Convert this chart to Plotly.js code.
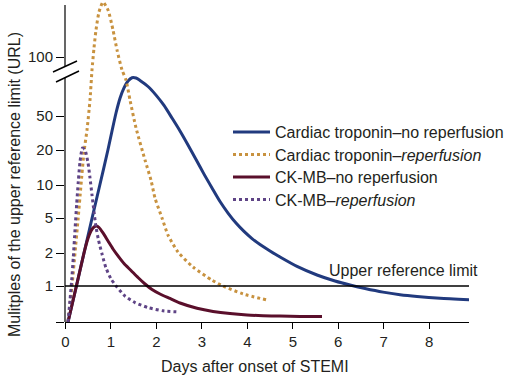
<!DOCTYPE html>
<html><head><meta charset="utf-8">
<script src="https://cdn.plot.ly/plotly-3.0.1.min.js"></script>
<style>html,body{margin:0;padding:0;background:#fff}</style>
</head><body><div id="chart" style="width:513px;height:377px"></div>
<script>
// ---- data (multiples of URL vs days after onset of STEMI) ----
const tnNoDays = [0.055,0.240,0.407,0.585,0.755,0.933,1.023,1.111,1.199,1.287,1.375,1.463,1.551,1.639,1.815,1.991,2.167,2.343,2.519,2.695,2.871,3.047,3.223,3.399,3.575,3.751,3.927,4.103,4.279,4.499,4.719,5.093,5.533,5.928,6.259,6.589,6.985,7.359,7.733,8.239,8.877];
const tnNoVals = [0,1.0,2.0,5.0,10,20,33.4,51.8,61.6,69.5,75.4,78.4,78.1,75.9,70.7,63.9,56.6,47.3,33.4,22.9,16.6,12.4,9.40,7.07,5.55,4.38,3.52,2.92,2.50,2.11,1.84,1.51,1.26,1.11,1.02,0.93,0.83,0.76,0.71,0.66,0.62];

const tnRepDays = [0.055,0.143,0.209,0.275,0.341,0.407,0.473,0.539,0.583,0.627,0.671,0.737,0.825,0.935,1.045,1.133,1.243,1.331,1.419,1.551,1.749,1.881,1.969,2.123,2.255,2.475,2.805,3.223,3.465,3.905,4.433];
const tnRepVals = [0,1.0,2.0,4.74,10,19.2,34.3,60.3,85.9,111.6,138.9,172.8,195,177.1,138.9,108.9,85.9,76.3,60.3,36.3,16.4,11.0,7.6,5.0,3.2,2.05,1.49,1.13,1.0,0.78,0.61];

const ckNoDays = [0.055,0.240,0.407,0.484,0.561,0.627,0.682,0.737,0.825,0.935,1.045,1.155,1.287,1.441,1.595,1.749,1.903,2.079,2.299,2.519,2.893,3.245,3.619,3.993,4.345,4.719,5.158,5.642];
const ckNoVals = [0,1.0,2.0,2.81,3.56,3.95,4.06,3.90,3.38,2.74,2.22,1.88,1.60,1.385,1.195,1.043,0.903,0.778,0.653,0.528,0.383,0.294,0.233,0.194,0.175,0.164,0.156,0.150];

const ckRepDays = [0.055,0.099,0.136,0.172,0.209,0.246,0.282,0.319,0.374,0.429,0.495,0.539,0.583,0.627,0.671,0.726,0.803,0.891,1.001,1.133,1.309,1.529,1.815,2.145,2.497];
const ckRepVals = [0,0.61,1.13,1.84,3.65,6.71,10.8,15.8,21.1,20,15.5,11.5,8.1,5.7,3.95,2.81,1.96,1.46,1.16,0.97,0.72,0.54,0.40,0.31,0.28];

const seriesNames = ['Cardiac troponin\u2013no reperfusion','Cardiac troponin\u2013<i>reperfusion</i>','CK-MB\u2013no reperfusion','CK-MB\u2013<i>reperfusion</i>'];
const xTickVals = [0,1,2,3,4,5,6,7,8];
const yTickVals = [0,1,2,5,10,20,50,100];
const yTickText = ['','1','2','5','10','20','50','100'];
const urlLevel = 1;
const urlLabel = 'Upper reference limit';
const xTitle = 'Days after onset of STEMI';
const yTitle = 'Mulitples of the upper reference limit (URL)';

// ---- broken semi-log y scale (axis units per anchor value) ----
const scaleValues = [0,1,2,5,10,20,50,100,200];
const scaleUnits  = [0,36,69,104,137,172,206,265,322];
function toAxis(v){
  if (v <= scaleValues[1]) return v/scaleValues[1]*scaleUnits[1];
  let i = 1;
  while (i < scaleValues.length-2 && v > scaleValues[i+1]) i++;
  const f = Math.log(v/scaleValues[i])/Math.log(scaleValues[i+1]/scaleValues[i]);
  return scaleUnits[i] + f*(scaleUnits[i+1]-scaleUnits[i]);
}

const FONT = 'Liberation Sans, Arial, Helvetica, sans-serif';
const colors = ['#213a7e','#c8923f','#5a0f2b','#5f4486'];
const dashes = ['solid','dot','solid','dot'];
const xs = [tnNoDays,tnRepDays,ckNoDays,ckRepDays];
const ys = [tnNoVals,tnRepVals,ckNoVals,ckRepVals];
const legendIds = ['legend','legend2','legend3','legend4'];

const traces = xs.map((x,k)=>({
  type:'scatter', mode:'lines', x:x, y:ys[k].map(toAxis), customdata:ys[k],
  name:seriesNames[k], legend:legendIds[k],
  hovertemplate:'%{x:.2f} d: %{customdata}×URL<extra></extra>',
  line:{color:colors[k], width:3, dash:dashes[k], shape:'spline', smoothing:0.6}
}));

const L=65, R=44, T=1, B=55, W=513, H=377;
const pw = W-L-R, ph = H-T-B;
const px2paper = p => (p-L)/pw;
const py2paper = p => (H-B-p)/ph;

const yBreakLo = 244.3, yBreakHi = 255.5, yTop = 317;
const shapes = [
  {type:'line', xref:'paper', yref:'y', x0:0, x1:0, y0:0, y1:yBreakLo, line:{color:'#000',width:1.2}},
  {type:'line', xref:'paper', yref:'y', x0:0, x1:0, y0:yBreakHi, y1:yTop, line:{color:'#000',width:1.2}},
  {type:'line', xref:'paper', yref:'y', x0:px2paper(53), x1:px2paper(77), y0:250, y1:261, line:{color:'#000',width:1.5}},
  {type:'line', xref:'paper', yref:'y', x0:px2paper(56), x1:px2paper(79), y0:240, y1:251, line:{color:'#000',width:1.5}},
  {type:'line', xref:'paper', yref:'y', x0:0, x1:1, y0:toAxis(urlLevel), y1:toAxis(urlLevel), line:{color:'#000',width:1.3}}
];

const annotations = [
  {text:urlLabel, xref:'paper', yref:'paper', x:px2paper(327), y:py2paper(270), xanchor:'left', yanchor:'middle', showarrow:false, font:{family:FONT,size:16,color:'#231f20'}},
  {text:xTitle, xref:'paper', yref:'paper', x:px2paper(255), y:py2paper(367), xanchor:'center', yanchor:'middle', showarrow:false, font:{family:FONT,size:16,color:'#231f20'}},
  {text:yTitle, xref:'paper', yref:'paper', x:px2paper(14), y:py2paper(185), xanchor:'center', yanchor:'middle', textangle:-90, showarrow:false, font:{family:FONT,size:16,color:'#231f20'}}
];

const legendRows = [132,154.5,177,199.5];
const layout = {
  width:W, height:H, margin:{l:L,r:R,t:T,b:B,pad:0}, paper_bgcolor:'#fff', plot_bgcolor:'#fff',
  showlegend:true,
  xaxis:{range:[(L-65.5)/45.46, (W-R-65.5)/45.46], tickvals:xTickVals, ticks:'outside', ticklen:6, tickwidth:1, tickcolor:'#000',
         showline:true, linecolor:'#000', linewidth:1.3, showgrid:false, zeroline:false,
         tickfont:{family:FONT,size:15,color:'#231f20'}},
  yaxis:{range:[0,321], tickvals:yTickVals.map(toAxis), ticktext:yTickText, ticks:'outside', ticklen:8, tickwidth:1, tickcolor:'#000',
         showline:false, showgrid:false, zeroline:false, tickfont:{family:FONT,size:15,color:'#231f20'}},
  shapes:shapes, annotations:annotations
};
legendIds.forEach((id,k)=>{
  layout[id] = {x:px2paper(228), y:py2paper(legendRows[k]), xanchor:'left', yanchor:'middle', itemwidth:37,
    font:{family:FONT,size:16,color:'#231f20'}, bgcolor:'rgba(0,0,0,0)', borderwidth:0};
});
Plotly.newPlot('chart', traces, layout, {staticPlot:true});
</script></body></html>
